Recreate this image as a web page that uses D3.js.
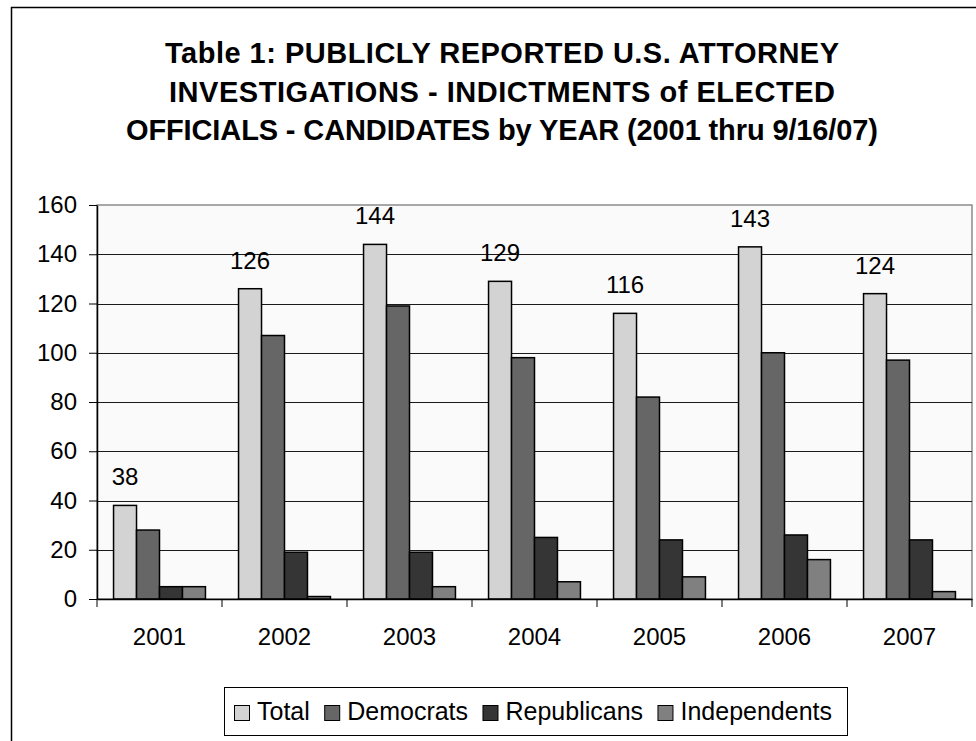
<!DOCTYPE html>
<html>
<head>
<meta charset="utf-8">
<script src="https://cdn.jsdelivr.net/npm/d3@7"></script>
<style>
  html, body { margin: 0; padding: 0; background: #fff; }
  svg { display: block; font-family: Arial, "Liberation Sans", sans-serif; }
</style>
</head>
<body>
<svg id="chart" width="976" height="741"></svg>
<script>
const titleLines = [
  "Table 1: PUBLICLY REPORTED U.S. ATTORNEY",
  "INVESTIGATIONS - INDICTMENTS of ELECTED",
  "OFFICIALS - CANDIDATES by YEAR (2001 thru 9/16/07)"
];
const years = ["2001", "2002", "2003", "2004", "2005", "2006", "2007"];
const seriesNames = ["Total", "Democrats", "Republicans", "Independents"];
const total = [38, 126, 144, 129, 116, 143, 124];
const democrats = [28, 107, 119, 98, 82, 100, 97];
const republicans = [5, 19, 19, 25, 24, 26, 24];
const independents = [5, 1, 5, 7, 9, 16, 3];
const yTicks = [0, 20, 40, 60, 80, 100, 120, 140, 160];
const colors = ["#d3d3d3", "#666666", "#353535", "#808080"];

const seriesValues = [total, democrats, republicans, independents];
const FONT = "Arial, 'Liberation Sans', sans-serif";
const LABEL_SIZE = 24;

const svg = d3.select("#chart");

// outer chart frame
svg.append("rect")
  .attr("x", 11.5).attr("y", 7.5)
  .attr("width", 1100).attr("height", 1000)
  .attr("fill", "#fff").attr("stroke", "#000").attr("stroke-width", 1.5);

// title
const titleWidths = [674, 666, 752];
const title = svg.append("text")
  .attr("text-anchor", "middle")
  .attr("font-weight", "bold")
  .attr("font-size", 29)
  .attr("fill", "#000");
titleLines.forEach((t, i) => {
  title.append("tspan").attr("x", 502).attr("y", 63 + i * 38.5)
    .attr("textLength", titleWidths[i]).attr("lengthAdjust", "spacing")
    .text(t);
});

// plot area
const plot = { left: 97, right: 972, top: 205, bottom: 599 };

const x0 = d3.scaleBand().domain(years).range([plot.left, plot.right]).padding(0);
const x1 = d3.scaleBand().domain(seriesNames).range([0, x0.bandwidth()])
  .paddingInner(0).paddingOuter(0.72);
const y = d3.scaleLinear().domain([0, 160]).range([plot.bottom, plot.top]);

svg.append("rect")
  .attr("x", plot.left).attr("y", plot.top)
  .attr("width", plot.right - plot.left).attr("height", plot.bottom - plot.top)
  .attr("fill", "#fafafa").attr("stroke", "#8c8c8c").attr("stroke-width", 1.5);

// gridlines
svg.append("g")
  .selectAll("line")
  .data(yTicks.filter(d => d > 0 && d < 160))
  .join("line")
  .attr("x1", plot.left).attr("x2", plot.right)
  .attr("y1", d => Math.round(y(d)) + 0.5).attr("y2", d => Math.round(y(d)) + 0.5)
  .attr("stroke", "#1a1a1a").attr("stroke-width", 1);

// bars
const groups = svg.append("g")
  .selectAll("g")
  .data(years)
  .join("g")
  .attr("transform", d => `translate(${x0(d)},0)`);

groups.selectAll("rect")
  .data((d, i) => seriesNames.map((s, j) => ({ s, j, v: seriesValues[j][i] })))
  .join("rect")
  .attr("x", d => x1(d.s))
  .attr("y", d => y(d.v))
  .attr("width", x1.bandwidth())
  .attr("height", d => y(0) - y(d.v))
  .attr("fill", d => colors[d.j])
  .attr("stroke", "#000")
  .attr("stroke-width", 1.5);

// value labels on totals
svg.append("g")
  .selectAll("text")
  .data(years)
  .join("text")
  .attr("x", d => x0(d) + x1("Total") + x1.bandwidth() / 2)
  .attr("y", (d, i) => y(total[i]) - 20)
  .attr("text-anchor", "middle")
  .attr("font-size", LABEL_SIZE)
  .attr("fill", "#000")
  .text((d, i) => total[i]);

// y axis
const yAxis = svg.append("g")
  .attr("transform", `translate(${plot.left},0)`)
  .call(d3.axisLeft(y).tickValues(yTicks).tickSize(8).tickPadding(12).tickSizeOuter(0));
yAxis.select(".domain").attr("stroke", "#000").attr("stroke-width", 1.5);
yAxis.selectAll(".tick line").attr("stroke", "#000").attr("stroke-width", 1);
yAxis.selectAll(".tick text").attr("font-size", LABEL_SIZE).attr("font-family", FONT).attr("fill", "#000");

// x axis
const xAxis = svg.append("g")
  .attr("transform", `translate(0,${plot.bottom})`)
  .call(d3.axisBottom(x0).tickSize(0).tickPadding(29));
xAxis.select(".domain").attr("stroke", "#000").attr("stroke-width", 1.5);
xAxis.selectAll(".tick text").attr("font-size", LABEL_SIZE).attr("font-family", FONT).attr("fill", "#000");
// category boundary ticks
svg.append("g")
  .selectAll("line")
  .data(years.concat(["end"]))
  .join("line")
  .attr("x1", (d, i) => i < years.length ? x0(d) : plot.right)
  .attr("x2", (d, i) => i < years.length ? x0(d) : plot.right)
  .attr("y1", plot.bottom).attr("y2", plot.bottom + 8)
  .attr("stroke", "#000").attr("stroke-width", 1);

// legend
const legend = svg.append("g");
const legendBox = legend.append("rect")
  .attr("fill", "#fff").attr("stroke", "#000").attr("stroke-width", 1);
const legendLeft = 234, legendRight = 832, sw = 15, swGap = 8;
const items = seriesNames.map((s, j) => {
  const t = legend.append("text")
    .attr("y", 720)
    .attr("font-size", 25).attr("fill", "#000").text(s);
  return { t, j, w: t.node().getComputedTextLength() };
});
const contentW = d3.sum(items, d => d.w + sw + swGap);
const itemGap = (legendRight - legendLeft - contentW) / (items.length - 1);
let lx = legendLeft;
items.forEach(d => {
  legend.append("rect")
    .attr("x", lx + 0.5).attr("y", 705.5).attr("width", sw).attr("height", sw)
    .attr("fill", colors[d.j]).attr("stroke", "#000").attr("stroke-width", 1);
  d.t.attr("x", lx + sw + swGap);
  lx += sw + swGap + d.w + itemGap;
});
legendBox.attr("x", 224.5).attr("y", 687.5).attr("width", 623).attr("height", 48);
</script>
</body>
</html>
